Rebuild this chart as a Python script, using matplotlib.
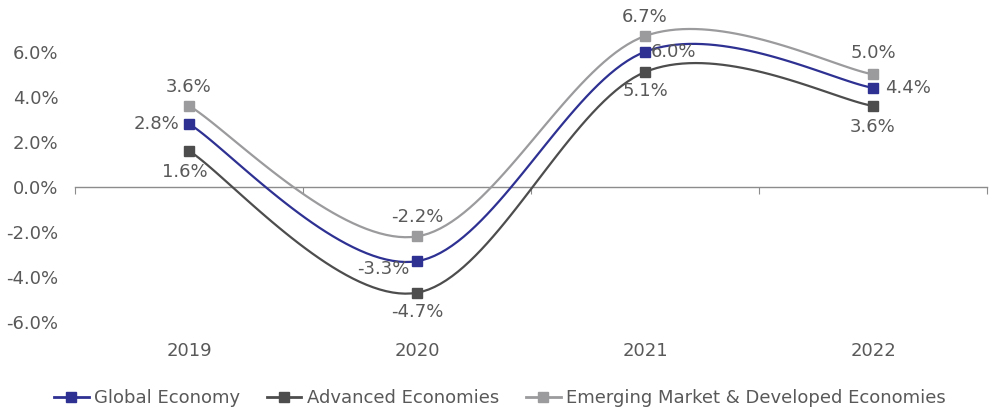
import numpy as np
import matplotlib
matplotlib.use("Agg")
import matplotlib.pyplot as plt
from matplotlib.lines import Line2D

# chart data (GDP growth, %)
years = ["2019", "2020", "2021", "2022"]
global_economy = [2.8, -3.3, 6.0, 4.4]
advanced = [1.6, -4.7, 5.1, 3.6]
emerging = [3.6, -2.2, 6.7, 5.0]
series_names = ["Global Economy", "Advanced Economies",
                "Emerging Market & Developed Economies"]

TEXT = "#595959"
FS = 13
plt.rcParams['font.family'] = ['DejaVu Sans']


def smooth(xs, ys, n=40):
    # Excel-like smoothed line: cubic Bezier with Catmull-Rom control points
    p = np.column_stack([xs, ys]).astype(float)
    pts = np.vstack([p[0], p, p[-1]])
    out = []
    for i in range(1, len(pts) - 2):
        p0, p1, p2, p3 = pts[i - 1], pts[i], pts[i + 1], pts[i + 2]
        c1 = p1 + (p2 - p0) / 6
        c2 = p2 - (p3 - p1) / 6
        t = np.linspace(0, 1, n)[:, None]
        seg = ((1 - t) ** 3) * p1 + 3 * ((1 - t) ** 2) * t * c1 + 3 * (1 - t) * t ** 2 * c2 + t ** 3 * p2
        out.append(seg if i == 1 else seg[1:])
    seg = np.vstack(out)
    return seg[:, 0], seg[:, 1]


fig = plt.figure(figsize=(9.9, 4.15), dpi=100)
ax = fig.add_axes([75 / 990, 93 / 415, 912 / 990, 322 / 415])
ax.set_xlim(-0.5, 3.5)
ax.set_ylim(-6, 8.3)

x = np.arange(len(years))
colors = ["#2e3192", "#4d4d4d", "#9b9b9d"]
data = [global_economy, advanced, emerging]

# labels placement per series/point: (dx px, dy px, ha, va)
offsets = {
    0: [(-10, 0, 'right', 'center'), (-8, -8, 'right', 'center'),
        (6, 0, 'left', 'center'), (12, 0, 'left', 'center')],
    1: [(-4, -12, 'center', 'top'), (0, -10, 'center', 'top'),
        (0, -10, 'center', 'top'), (0, -12, 'center', 'top')],
    2: [(0, 10, 'center', 'bottom'), (0, 10, 'center', 'bottom'),
        (0, 10, 'center', 'bottom'), (0, 12, 'center', 'bottom')],
}

for k in [2, 1, 0]:
    vals = data[k]
    sx, sy = smooth(x, vals)
    ax.plot(sx, sy, color=colors[k], lw=1.6, zorder=3, clip_on=False)
    ax.plot(x, vals, ls='none', marker='s', ms=7.5, color=colors[k], zorder=4, clip_on=False)
    for i, v in enumerate(vals):
        dx, dy, ha, va = offsets[k][i]
        ax.annotate(f"{v:.1f}%", (x[i], v), xytext=(dx * 0.72, dy * 0.72),
                    textcoords='offset points', ha=ha, va=va,
                    fontsize=FS, color=TEXT, zorder=5)

# axes styling
for s in ['top', 'right', 'left']:
    ax.spines[s].set_visible(False)
ax.spines['bottom'].set_position(('data', 0))
ax.spines['bottom'].set_color('#8c8c8c')
ax.spines['bottom'].set_linewidth(1.0)
ax.set_xticks(np.arange(-0.5, 4, 1))
ax.set_xticklabels([])
ax.tick_params(axis='x', direction='out', length=5, color='#8c8c8c')
ax.set_yticks(np.arange(-6, 7, 2))
ax.set_yticklabels([f"{v:.1f}%" for v in np.arange(-6, 7, 2)])
ax.tick_params(axis='y', length=0, labelsize=FS, labelcolor=TEXT, pad=12)

# category labels below the plot
for i, yr in enumerate(years):
    ax.text(x[i], -7.3, yr, ha='center', va='center', fontsize=FS, color=TEXT)

handles = [Line2D([0], [0], color=c, lw=2, marker='s', ms=7) for c in colors]
fig.legend(handles, series_names, loc='lower center', bbox_to_anchor=(0.505, -0.02),
           ncol=3, frameon=False, fontsize=FS, handlelength=1.9, handletextpad=0.3,
           columnspacing=1.5, labelcolor=TEXT)

fig.savefig("out.png", dpi=100)
